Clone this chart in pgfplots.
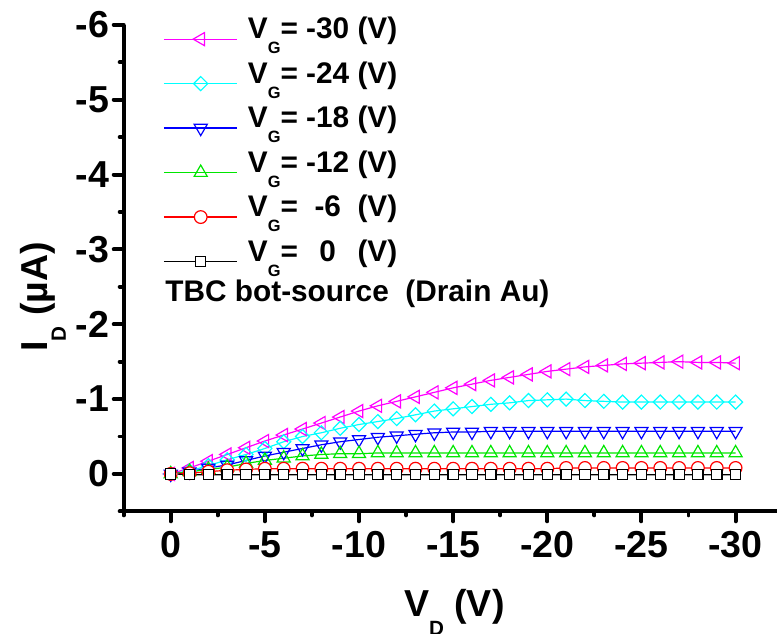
\documentclass[border=0pt]{standalone}
\usepackage{fontspec}
\setmainfont{Liberation Sans}
\usepackage{pgfplots}
\pgfplotsset{compat=1.18}
\usepackage{pgfplotstable}
\definecolor{cmag}{RGB}{255,0,255}
\definecolor{ccyan}{RGB}{0,255,255}
\definecolor{cblue}{RGB}{0,0,255}
\definecolor{cgreen}{RGB}{0,230,0}
\definecolor{cred}{RGB}{255,0,0}
\newcommand\sub[1]{\raisebox{-0.5em}{\scalebox{0.55}{#1}}}
\newlength\numw
\pgfplotstableread{
x m30 m24 m18 m12 m6 m0
0 0 0 0 0 0 0
-1 -0.08 -0.04 -0.03 -0.03 -0.01 0.01
-2 -0.17 -0.11 -0.08 -0.06 -0.03 0.01
-3 -0.26 -0.19 -0.12 -0.09 -0.05 0.01
-4 -0.35 -0.26 -0.18 -0.14 -0.06 0.01
-5 -0.44 -0.34 -0.24 -0.18 -0.07 0.01
-6 -0.52 -0.43 -0.29 -0.21 -0.07 0.01
-7 -0.60 -0.50 -0.34 -0.24 -0.07 0.01
-8 -0.68 -0.55 -0.39 -0.26 -0.07 0.01
-9 -0.76 -0.61 -0.43 -0.27 -0.07 0.01
-10 -0.84 -0.66 -0.46 -0.27 -0.07 0.01
-11 -0.91 -0.70 -0.49 -0.28 -0.07 0.01
-12 -0.97 -0.74 -0.51 -0.28 -0.07 0.01
-13 -1.03 -0.79 -0.53 -0.28 -0.07 0.01
-14 -1.09 -0.84 -0.55 -0.28 -0.07 0.01
-15 -1.15 -0.87 -0.56 -0.28 -0.07 0.01
-16 -1.20 -0.90 -0.56 -0.28 -0.07 0.01
-17 -1.25 -0.93 -0.57 -0.28 -0.07 0.01
-18 -1.29 -0.95 -0.57 -0.28 -0.07 0.01
-19 -1.33 -0.98 -0.57 -0.28 -0.07 0.01
-20 -1.37 -0.99 -0.57 -0.28 -0.07 0.01
-21 -1.40 -1.00 -0.57 -0.28 -0.08 0.01
-22 -1.43 -0.98 -0.57 -0.28 -0.08 0.01
-23 -1.45 -0.97 -0.57 -0.28 -0.08 0.01
-24 -1.47 -0.96 -0.57 -0.28 -0.08 0.01
-25 -1.48 -0.96 -0.57 -0.28 -0.08 0.01
-26 -1.49 -0.96 -0.57 -0.28 -0.08 0.01
-27 -1.50 -0.96 -0.57 -0.28 -0.08 0.01
-28 -1.49 -0.96 -0.57 -0.28 -0.08 0.01
-29 -1.49 -0.96 -0.57 -0.28 -0.08 0.01
-30 -1.48 -0.96 -0.57 -0.28 -0.08 0.01
}\datatable
\begin{document}
\settowidth\numw{\fontsize{15}{17}\selectfont\bfseries -30}
\begin{tikzpicture}
\begin{axis}[
  scale only axis,
  width=329pt, height=245pt,
  x dir=reverse, y dir=reverse,
  xmin=-32.2, xmax=2.5, ymin=-6, ymax=0.5,
  axis x line*=bottom, axis y line*=left,
  axis line style={line width=2pt, -},
  every tick/.style={line width=2pt, black, line cap=round},
  tick align=outside,
  major tick length=5pt, minor tick length=2pt,
  xtick={0,-5,-10,-15,-20,-25,-30},
  xticklabels={0,-5,-10,-15,-20,-25,-30},
  minor xtick={2.5,-2.5,-7.5,-12.5,-17.5,-22.5,-27.5},
  ytick={0,-1,-2,-3,-4,-5,-6},
  yticklabels={0,-1,-2,-3,-4,-5,-6},
  minor ytick={0.5,-0.5,-1.5,-2.5,-3.5,-4.5,-5.5},
  tick label style={font=\fontsize{18.9}{22}\selectfont\bfseries},
  xticklabel style={inner sep=0pt, yshift=-5pt},
  yticklabel style={inner sep=0pt, xshift=-2pt},
  xlabel={\bfseries V\sub{D} (V)},
  xlabel style={font=\fontsize{18.9}{22}\selectfont, at={(axis description cs:0.5,0)}, anchor=base, yshift=-53pt, xshift=2pt},
  ylabel={\bfseries I\sub{D} (µA)},
  ylabel style={font=\fontsize{18.9}{22}\selectfont, at={(axis description cs:-0.117,0.441)}, anchor=base},
  clip=false,
  legend cell align=left,
  legend style={at={(axis description cs:0,1)}, anchor=north west, xshift=20pt, yshift=4pt,
    draw=none, fill=none, inner sep=0pt, outer sep=0pt, row sep=0pt, column sep=5pt,
    font=\fontsize{15}{17}\selectfont\bfseries,
    nodes={inner sep=0pt, text height=11pt, text depth=11.4pt}},
  legend image code/.code={
    \draw[mark repeat=2, mark phase=2] plot coordinates {(0pt,0pt) (18.5pt,0pt) (37pt,0pt)};
  },
]
\addplot[cmag, line width=0.6pt, mark=triangle, mark size=3.8pt, mark options={solid, fill=white, line width=0.6pt, rotate=90}] table[x=x, y=m30] {\datatable};
\addlegendentry{V\sub{G}= \makebox[\numw][l]{-30} (V)}
\addplot[ccyan, line width=0.6pt, mark=square, mark size=2.5pt, mark options={solid, fill=white, line width=0.6pt, rotate=45}] table[x=x, y=m24] {\datatable};
\addlegendentry{V\sub{G}= \makebox[\numw][l]{-24} (V)}
\addplot[cblue, line width=0.6pt, mark=triangle, mark size=3.8pt, mark options={solid, fill=white, line width=0.6pt, rotate=180}] table[x=x, y=m18] {\datatable};
\addlegendentry{V\sub{G}= \makebox[\numw][l]{-18} (V)}
\addplot[cgreen, line width=0.6pt, mark=triangle, mark size=3.8pt, mark options={solid, fill=white, line width=0.6pt}] table[x=x, y=m12] {\datatable};
\addlegendentry{V\sub{G}= \makebox[\numw][l]{-12} (V)}
\addplot[cred, line width=0.6pt, mark=*, mark size=3.2pt, mark options={solid, fill=white, draw=cred, line width=0.6pt}] table[x=x, y=m6] {\datatable};
\addlegendentry{V\sub{G}= \makebox[\numw][c]{-6} (V)}
\addplot[black, line width=0.6pt, mark=square*, mark size=2.6pt, mark options={solid, fill=white, draw=black, line width=0.6pt}] table[x=x, y=m0] {\datatable};
\addlegendentry{V\sub{G}= \makebox[\numw][c]{0} (V)}
\node[anchor=base west, font=\fontsize{15}{17}\selectfont\bfseries, inner sep=0pt] at (axis cs:0.3,-2.31) {TBC bot-source\ \ (Drain Au)};
\end{axis}
\pgfresetboundingbox
\path[use as bounding box] ([xshift=-59.5pt,yshift=-61.5pt]current axis.south west) rectangle ([yshift=12.5pt]current axis.north east);
\end{tikzpicture}
\end{document}
